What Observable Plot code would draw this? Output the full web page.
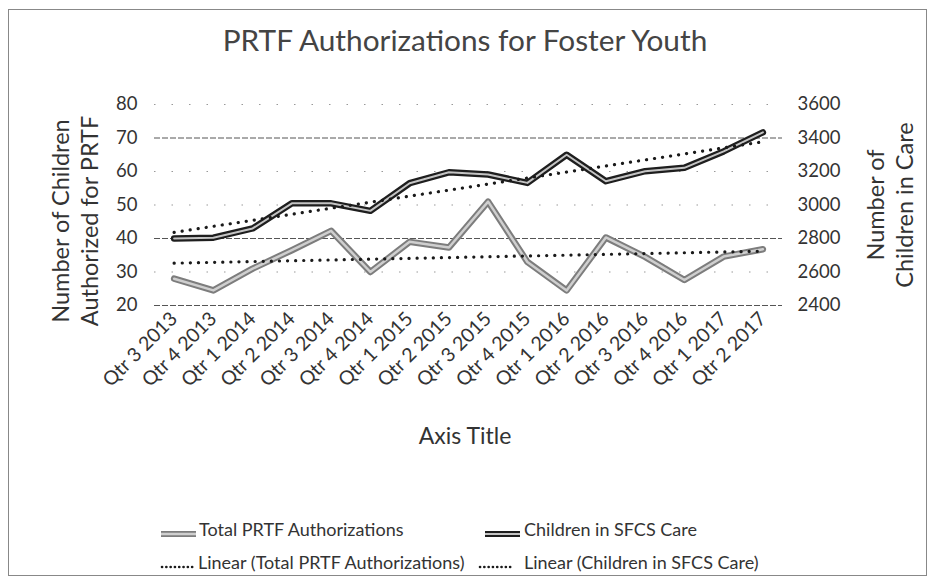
<!DOCTYPE html>
<html><head><meta charset="utf-8">
<script src="https://cdn.jsdelivr.net/npm/d3@7"></script>
<script src="https://cdn.jsdelivr.net/npm/@observablehq/plot@0.6"></script>
<style>
body{margin:0;background:#fff;font-family:Lato,"Open Sans",sans-serif;color:#333}
#wrap{position:relative;width:930px;height:578px;overflow:hidden;background:#fff}
.frame{position:absolute;left:8px;top:9px;width:919px;height:567px;border:1px solid #888;box-sizing:border-box}
#title{position:absolute;top:22px;left:0;width:930px;text-align:center;font-size:29.8px;color:#444;white-space:nowrap}
#chart{position:absolute;left:0;top:0}
.vt{position:absolute;width:340px;text-align:center;font-size:23.5px;line-height:29px;color:#333;transform:translate(-50%,-50%) rotate(-90deg);white-space:nowrap}
#xtitle{position:absolute;left:0;width:930px;top:421px;text-align:center;font-size:23px;color:#333}
.lg{position:absolute;font-size:18px;color:#333;white-space:nowrap;line-height:20px}
.sw{position:absolute}
</style></head>
<body>
<div id="wrap">
  <div class="frame"></div>
  <div id="title">PRTF Authorizations for Foster Youth</div>
  <div id="chart"></div>
  <div class="vt" style="left:75px;top:221px">Number of Children<br>Authorized for PRTF</div>
  <div class="vt" style="left:890px;top:205px">Number of<br>Children in Care</div>
  <div id="xtitle">Axis Title</div>
  <div id="legend"></div>
</div>
<script>
const quarters = ["Qtr 3 2013","Qtr 4 2013","Qtr 1 2014","Qtr 2 2014","Qtr 3 2014","Qtr 4 2014",
  "Qtr 1 2015","Qtr 2 2015","Qtr 3 2015","Qtr 4 2015","Qtr 1 2016","Qtr 2 2016",
  "Qtr 3 2016","Qtr 4 2016","Qtr 1 2017","Qtr 2 2017"];
const prtfAuthorizations = [28, 24.5, 31, 36.5, 42.3, 30, 39, 37.3, 51, 33, 24.5, 40.3, 34.5, 27.6, 34.6, 36.8];
const childrenInCare = [2800, 2805, 2860, 3010, 3010, 2965, 3130, 3195, 3182, 3132, 3300, 3142, 3202, 3222, 3320, 3434];
const leftTicks = [20, 30, 40, 50, 60, 70, 80];
const rightTicks = [2400, 2600, 2800, 3000, 3200, 3400, 3600];
const strongGrid = [20, 40, 70];

// right axis (children) mapped onto the left axis: 2400..3600 <-> 20..80
const toLeft = c => 20 + (c - 2400) / 20;
const fromLeft = v => String(Math.round(2400 + (v - 20) * 20));

const rows = quarters.map((q, i) => ({i, q, prtf: prtfAuthorizations[i], care: toLeft(childrenInCare[i])}));
const weakGrid = leftTicks.filter(t => !strongGrid.includes(t));

const chart = Plot.plot({
  width: 930, height: 460,
  marginLeft: 154, marginRight: 148, marginTop: 104, marginBottom: 155,
  style: {fontFamily: "Lato, 'Open Sans', sans-serif", color: "#333", background: "transparent"},
  x: {type: "linear", domain: [-0.5, quarters.length - 0.5]},
  y: {domain: [20, 80]},
  marks: [
    Plot.ruleY(weakGrid, {stroke: "#999", strokeWidth: 1.2, strokeDasharray: "1.5,16"}),
    Plot.ruleY(strongGrid, {stroke: "#555", strokeWidth: 1, strokeDasharray: "6,2"}),
    Plot.axisY(leftTicks, {anchor: "left", tickSize: 0, tickPadding: 17, fontSize: 18.5, label: null}),
    Plot.axisY(rightTicks.map(toLeft), {anchor: "right", tickSize: 0, tickPadding: 15, fontSize: 18.5, label: null, tickFormat: fromLeft}),
    Plot.axisX(d3.range(quarters.length), {tickFormat: i => quarters[i], tickRotate: -45, tickSize: 0, tickPadding: 10, fontSize: 19.5, label: null}),
    Plot.line(rows, {x: "i", y: "prtf", stroke: "#7d7d7d", strokeWidth: 6.5, strokeLinejoin: "round"}),
    Plot.line(rows, {x: "i", y: "prtf", stroke: "#cfcfcf", strokeWidth: 2.5, strokeLinejoin: "round"}),
    Plot.line(rows, {x: "i", y: "care", stroke: "#1e1e1e", strokeWidth: 6.5, strokeLinejoin: "round"}),
    Plot.line(rows, {x: "i", y: "care", stroke: "#c4c4c4", strokeWidth: 2, strokeLinejoin: "round"}),
    Plot.linearRegressionY(rows, {x: "i", y: "prtf", ci: 0, stroke: "#1a1a1a", strokeWidth: 3.2, strokeDasharray: "0.1,8", strokeLinecap: "round"}),
    Plot.linearRegressionY(rows, {x: "i", y: "care", ci: 0, stroke: "#1a1a1a", strokeWidth: 3.2, strokeDasharray: "0.1,8", strokeLinecap: "round"})
  ]
});
document.getElementById("chart").appendChild(chart);

// legend
const legendItems = [
  {label: "Total PRTF Authorizations", kind: "gray", sx: 160, tx: 199, y: 530},
  {label: "Children in SFCS Care", kind: "dark", sx: 484, tx: 524, y: 530},
  {label: "Linear (Total PRTF Authorizations)", kind: "dot", sx: 160, tx: 198, y: 563},
  {label: "Linear (Children in SFCS Care)", kind: "dot", sx: 478, tx: 524, y: 563}
];
const lg = document.getElementById("legend");
for (const it of legendItems) {
  const w = it.kind === "dot" ? 34 : 37;
  let inner;
  if (it.kind === "gray") inner = `<line x1="1" y1="6" x2="${w-1}" y2="6" stroke="#7d7d7d" stroke-width="6"/><line x1="1" y1="6" x2="${w-1}" y2="6" stroke="#cfcfcf" stroke-width="2.5"/>`;
  else if (it.kind === "dark") inner = `<line x1="1" y1="6" x2="${w-1}" y2="6" stroke="#1e1e1e" stroke-width="6"/><line x1="1" y1="6" x2="${w-1}" y2="6" stroke="#c4c4c4" stroke-width="2"/>`;
  else inner = `<line x1="2" y1="6" x2="${w-1}" y2="6" stroke="#1a1a1a" stroke-width="2.6" stroke-dasharray="0.1,4.2" stroke-linecap="round"/>`;
  const s = document.createElement("div");
  s.className = "sw";
  s.style.left = it.sx + "px"; s.style.top = (it.y - 6) + "px";
  s.innerHTML = `<svg width="${w}" height="12">${inner}</svg>`;
  lg.appendChild(s);
  const t = document.createElement("div");
  t.className = "lg";
  t.style.left = it.tx + "px"; t.style.top = (it.y - 11) + "px";
  t.textContent = it.label;
  lg.appendChild(t);
}
</script>
</body></html>
